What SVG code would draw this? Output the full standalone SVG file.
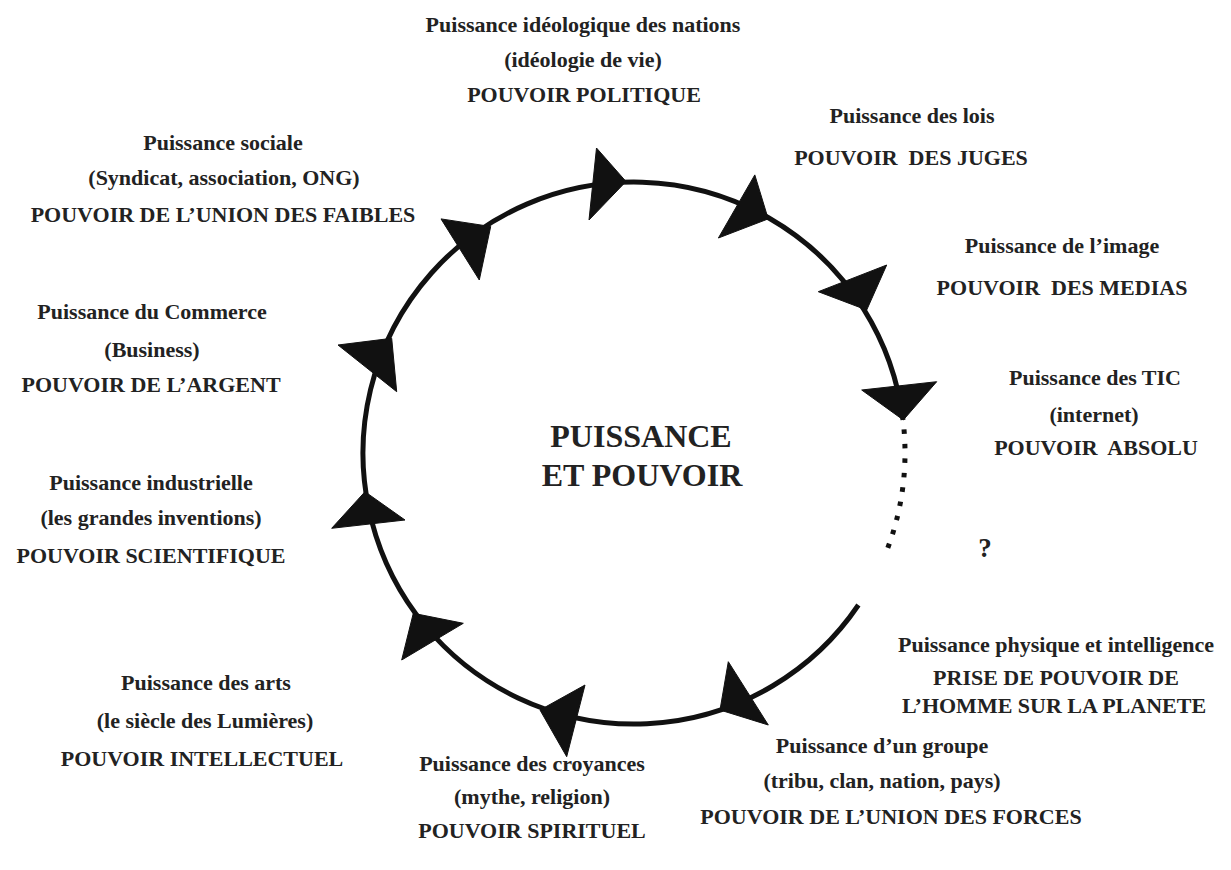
<svg xmlns="http://www.w3.org/2000/svg" width="1231" height="870" viewBox="0 0 1231 870">
<style>
text{font-family:'Liberation Serif','Times New Roman','DejaVu Serif',serif;font-weight:bold;font-size:22px;fill:#222;text-anchor:middle}
.c{font-size:32px}
.q{font-size:27px}
.arc{fill:none;stroke:#111;stroke-width:5}
.dots{fill:none;stroke:#111;stroke-width:5;stroke-dasharray:4.5 10}
.ah{fill:#111;stroke:#111;stroke-width:1;stroke-linejoin:round}
</style>
<rect width="1231" height="870" fill="#fff"/>
<g id="connectors">
<path class="arc" d="M 858.4 605 A 271 271 0 1 1 903 420"/>
<path class="dots" d="M 904 429.4 A 271 271 0 0 1 887.8 547.9"/>
<polygon class="ah" points="596.5,148 589,220 626,181.5"/>
<polygon class="ah" points="754.8,174.9 718.4,238 768.2,218.9"/>
<polygon class="ah" points="818.3,291.7 886.7,265 866.7,310"/>
<polygon class="ah" points="861.7,390 936.7,381.7 903.3,420"/>
<polygon class="ah" points="728.3,661.7 768.3,725 720,710"/>
<polygon class="ah" points="585,685 566.7,756.7 540,710"/>
<polygon class="ah" points="463.3,623.3 401.7,660 413.3,613.3"/>
<polygon class="ah" points="331.7,528.3 405,520 365,491.7"/>
<polygon class="ah" points="338,345 396.7,391.7 391.7,338.3"/>
<polygon class="ah" points="441,218.9 479.3,280 490.7,226.5"/>
</g>
<g id="center" font-family="Liberation Serif, serif"><text class="c" x="641" y="447">PUISSANCE</text><text class="c" x="642" y="486">ET POUVOIR</text></g>
<g id="politique"><text x="583" y="32">Puissance idéologique des nations</text><text x="583" y="67">(idéologie de vie)</text><text x="584" y="102">POUVOIR POLITIQUE</text></g>
<g id="juges"><text x="912" y="123">Puissance des lois</text><text x="911" y="165">POUVOIR&#160; DES JUGES</text></g>
<g id="medias"><text x="1062" y="253">Puissance de l’image</text><text x="1062" y="295">POUVOIR&#160; DES MEDIAS</text></g>
<g id="absolu"><text x="1095" y="385">Puissance des TIC</text><text x="1094" y="422">(internet)</text><text x="1096" y="455">POUVOIR&#160; ABSOLU</text></g>
<g id="question"><text class="q" x="985" y="557">?</text></g>
<g id="planete"><text x="1056" y="652">Puissance physique et intelligence</text><text x="1056" y="685">PRISE DE POUVOIR DE</text><text x="1054" y="713">L’HOMME SUR LA PLANETE</text></g>
<g id="forces"><text x="882" y="753">Puissance d’un groupe</text><text x="882" y="788">(tribu, clan, nation, pays)</text><text x="891" y="824">POUVOIR DE L’UNION DES FORCES</text></g>
<g id="spirituel"><text x="532" y="771">Puissance des croyances</text><text x="532" y="804">(mythe, religion)</text><text x="532" y="838">POUVOIR SPIRITUEL</text></g>
<g id="intellectuel"><text x="206" y="690">Puissance des arts</text><text x="205" y="728">(le siècle des Lumières)</text><text x="202" y="766">POUVOIR INTELLECTUEL</text></g>
<g id="scientifique"><text x="151" y="490">Puissance industrielle</text><text x="151" y="525">(les grandes inventions)</text><text x="151" y="563">POUVOIR SCIENTIFIQUE</text></g>
<g id="argent"><text x="152" y="319">Puissance du Commerce</text><text x="152" y="357">(Business)</text><text x="151" y="392">POUVOIR DE L’ARGENT</text></g>
<g id="faibles"><text x="223" y="150">Puissance sociale</text><text x="224" y="185">(Syndicat, association, ONG)</text><text x="223" y="222">POUVOIR DE L’UNION DES FAIBLES</text></g>
</svg>
